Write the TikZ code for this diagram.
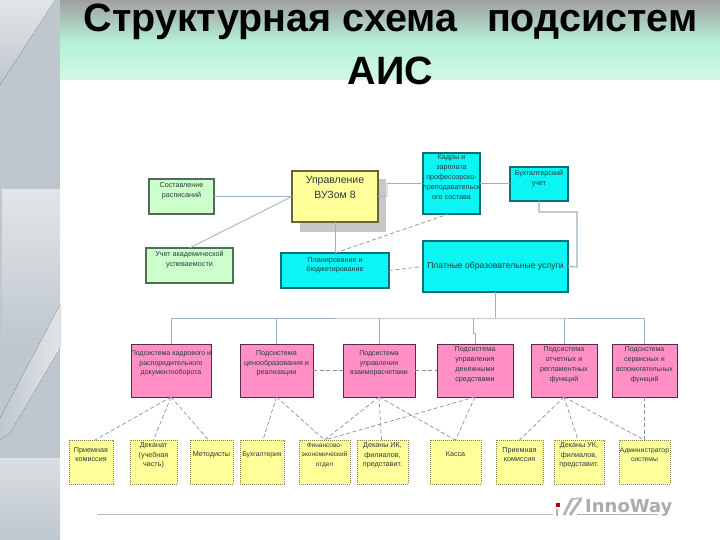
\documentclass[tikz,border=0pt]{standalone}
\usepackage{fontspec}
\setmainfont{Liberation Sans}
\newfontfamily\logofont{DejaVu Sans}
\usetikzlibrary{calc}
\definecolor{wireC}{HTML}{9FB0C4}
\definecolor{dashC}{HTML}{8492A6}
\definecolor{greenF}{HTML}{CCFFCC}
\definecolor{greenD}{HTML}{4F6F55}
\definecolor{cyanF}{HTML}{0BF5F5}
\definecolor{cyanD}{HTML}{0F6F78}
\definecolor{pinkF}{HTML}{FF8FC4}
\definecolor{pinkD}{HTML}{5A2A48}
\definecolor{yelF}{HTML}{FFFF99}
\definecolor{yelD}{HTML}{7F7F50}
\definecolor{stripC}{HTML}{BEC7CE}
\definecolor{stripL}{HTML}{E2E5E6}
\definecolor{inkC}{HTML}{2A3A3A}
\definecolor{bandA}{HTML}{A0A0A0}
\definecolor{bandB}{HTML}{B4F0D6}
\definecolor{bandC}{HTML}{D2F8E6}
\tikzset{
  x=1pt,y=-1pt,
  base/.style={inner sep=0pt,outer sep=0pt,align=center,text=inkC,font=\fontsize{7.2}{9.8}\selectfont},
  greenbox/.style={base,fill=greenF,draw=greenD,line width=1.3pt},
  cyanbox/.style={base,fill=cyanF,draw=cyanD,line width=1.2pt},
  pinkbox/.style={base,fill=pinkF,draw=pinkD,line width=.8pt},
  yelbox/.style={base,fill=yelF,draw=yelD,line width=.8pt,dash pattern=on .8pt off 1.2pt},
  mainbox/.style={base,fill=yelF,draw=black!60!yelF,line width=1.2pt,font=\fontsize{10.5}{14.5}\selectfont},
  wire/.style={draw=wireC,line width=.8pt},
  dashwire/.style={draw=dashC,line width=.7pt,dash pattern=on 4pt off 2.5pt},
  titlefont/.style={inner sep=0pt,font=\fontsize{39.5}{44}\selectfont\bfseries,text=black,anchor=base},
}
\newcommand{\bx}[7]{\node[#6,minimum width=#4pt-#2pt,minimum height=#5pt-#3pt] (#1) at ({(#2+#4)/2},{(#3+#5)/2}) {#7};}
\begin{document}
\begin{tikzpicture}
\useasboundingbox (0,0) rectangle (720,540);
\fill[white] (0,0) rectangle (720,540);
% left strip
\fill[stripC] (0,0) rectangle (60,540);
\fill[top color=stripL,bottom color=stripC] (0,0) -- (55,0) -- (0,85) -- cycle;
\fill[top color=stripL,bottom color=stripC] (2,190) rectangle (60,345);
\fill[left color=stripC,right color=stripL] (0,418) -- (60,305) -- (60,348) -- (10,433) -- (0,440) -- cycle;
\fill[top color=stripL!80!stripC,bottom color=stripC] (0,458) rectangle (60,540);
% header band
\fill[top color=bandA,bottom color=bandB] (60,0) rectangle (720,42);
\fill[top color=bandB,bottom color=bandC] (60,42) rectangle (720,80);
\node[titlefont] (ttl1) at (390.5,31.5) {Структурная схема\hspace{30pt}подсистем};
\node[titlefont] (ttl2) at (390.5,85) {АИС};
% shadow
\fill[black!22] (300,179) rectangle (386,232);
% nodes
\bx{sost}{149}{179}{214}{214}{greenbox}{Составление\\расписаний\\[3pt]}
\bx{uch}{146}{248}{233}{283}{greenbox}{Учет академической\\успеваемости\\[3pt]}
\bx{upr}{292}{171}{378}{222}{mainbox}{Управление\\ВУЗом 8\\[4pt]}
\bx{plan}{281}{253}{389}{288}{cyanbox}{Планирование и\\бюджетирование\\[2pt]}
\bx{kadr}{423}{153}{480}{214}{cyanbox}{Кадры и\\зарплата\\профессорско-\\преподавательск\\ого состава\\[3pt]}
\bx{buh}{510}{167}{568}{201}{cyanbox}{Бухгалтерский\\учет\\[3pt]}
\bx{plat}{423}{241}{568}{292}{cyanbox,font=\fontsize{8.6}{10}\selectfont}{Платные образовательные услуги}
\bx{pa}{131}{344}{211}{397}{pinkbox,font=\fontsize{7}{9.8}\selectfont}{Подсистема кадрового и\\распорядительного\\документооборота\\[6pt]}
\bx{pb}{240}{344}{313}{397}{pinkbox}{Подсистема\\ценообразования и\\реализации\\[6pt]}
\bx{pc}{343}{344}{415}{397}{pinkbox,font=\fontsize{7}{9.8}\selectfont}{Подсистема\\управления\\взаиморасчетами\\[6pt]}
\bx{pd}{437}{344}{513}{397}{pinkbox}{Подсистема\\управления\\денежными\\средствами\\[3pt]}
\bx{pe}{531}{344}{597}{397}{pinkbox}{Подсистема\\отчетных и\\регламентных\\функций\\[3pt]}
\bx{pf}{612}{344}{677}{397}{pinkbox,font=\fontsize{7}{9.8}\selectfont}{Подсистема\\сервисных и\\вспомогательных\\функций\\[3pt]}
\bx{ya}{69}{440}{113}{484}{yelbox}{Приемная\\комиссия\\[5pt]}
\bx{yb}{130}{440}{177}{484}{yelbox}{Деканат\\(учебная\\часть)\\[5pt]}
\bx{yc}{190}{440}{233}{484}{yelbox}{Методисты\\[6pt]}
\bx{yd}{240}{440}{284}{484}{yelbox,font=\fontsize{6.8}{9.8}\selectfont}{Бухгалтерия\\[6pt]}
\bx{ye}{299}{440}{350}{484}{yelbox,font=\fontsize{6.5}{9.8}\selectfont}{Финансово-\\экономический\\отдел\\[5pt]}
\bx{yf}{357}{440}{408}{484}{yelbox}{Деканы ИК,\\филиалов,\\представит.\\[5pt]}
\bx{yg}{430}{440}{481}{484}{yelbox}{Касса\\[6pt]}
\bx{yh}{496}{440}{543}{484}{yelbox}{Приемная\\комиссия\\[5pt]}
\bx{yi}{554}{440}{604}{484}{yelbox}{Деканы УК,\\филиалов,\\представит.\\[5pt]}
\bx{yj}{619}{440}{670}{484}{yelbox,font=\fontsize{6.8}{9.8}\selectfont}{Администратор\\системы\\[5pt]}
% solid connectors
\coordinate (bus) at (495.5,318);
\coordinate (elbowA) at (387,196);
\coordinate (elbowC) at (577,267);
\draw[wire] (sost.east |- upr.west) -- (upr.west);
\draw[wire] (uch.north) -- (upr.west);
\draw[wire] (upr.east) -- (elbowA) |- (kadr.west);
\draw[wire] (kadr.east) -- (kadr.east -| buh.west);
\draw[wire,line width=1.1pt] (buh.south) |- ($(elbowC)+(0,-55)$) -- (elbowC) -- (plat.east);
\draw[wire] (upr.south) -- (upr.south |- plan.north);
\draw[wire] (plat.south) -- (bus);
\draw[wire] (pa.north) |- (bus) -| (pf.north);
\foreach \n in {pb,pc,pe} \draw[wire] (\n.north) -- (\n.north |- bus);
\draw[wire] (pd.north) -- ++(0,-11) -- ++(-2,0) -- ($(pd.north |- bus)+(-2,0)$);
% dashed connectors
\draw[dashwire] (upr.south |- plan.north) -- ([xshift=-3pt]kadr.south);
\draw[dashwire] (plan.east) -- (plat.west);
\draw[dashwire] (pb.east) -- (pc.west);
\draw[dashwire] (pc.east) -- (pd.west);
\draw[dashwire] (pa.south) -- ([xshift=4pt]ya.north);
\draw[dashwire] (pa.south) -- (yb.north);
\draw[dashwire] (pa.south) -- ([xshift=-3pt]yc.north);
\draw[dashwire] (pb.south) -- ([xshift=1pt]yd.north);
\draw[dashwire] (pb.south) -- (ye.north);
\draw[dashwire] (pc.south) -- (ye.north);
\draw[dashwire] (pd.south) -- (ye.north);
\draw[dashwire] (pc.south) -- ([xshift=-1pt]yf.north);
\draw[dashwire] (pc.south) -- (yg.north);
\draw[dashwire] (pd.south) -- (yg.north);
\draw[dashwire] (pe.south) -- (yh.north);
\draw[dashwire] (pe.south) -- ([xshift=-1pt]yi.north);
\draw[dashwire] (pe.south) -- (yj.north);
\draw[dashwire] (pf.south) -- (yj.north);
% footer and logo
\coordinate (footA) at (97,514);
\coordinate (footB) at (553,514);
\coordinate (footC) at (577,514);
\coordinate (footD) at (658,514);
\draw[wireC!80,line width=.7pt] (footA) -- (footB);
\draw[black!30,line width=.8pt] (footC) -- (footD);
\fill[red!70!black] (555.5,502.5) rectangle (560,507);
\draw[black!30,line width=2.5pt] (557,509) -- (557,516);
\draw[black!30,line width=2.8pt] (564,515) -- (572,499);
\draw[black!30,line width=2.8pt] (570,515) -- (581,499);
\draw[black!30,line width=1.5pt] (572,499) -- (582,498);
\node[inner sep=0pt,anchor=base west,font=\logofont\fontsize{18}{20}\selectfont\bfseries,text=black!33] (logo) at (585,512) {InnoWay};
\end{tikzpicture}
\end{document}
